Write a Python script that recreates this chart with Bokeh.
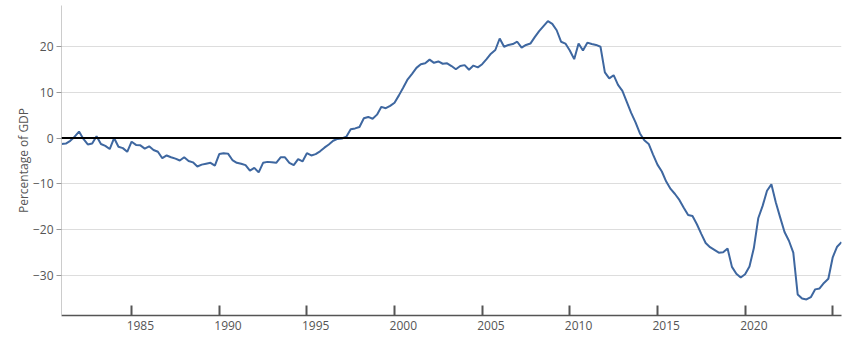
from bokeh.plotting import figure
from bokeh.models import Range1d, LinearAxis, FixedTicker, Span
from bokeh.embed import file_html
from bokeh.resources import INLINE

start_year = 1981
values = [
    -1.3, -1.2, -0.6, 0.3,
    1.4, -0.2, -1.4, -1.2,
    0.4, -1.3, -1.7, -2.4,
    0.0, -1.9, -2.2, -3.0,
    -0.8, -1.5, -1.6, -2.3,
    -1.8, -2.6, -3.0, -4.4,
    -3.8, -4.2, -4.5, -4.9,
    -4.2, -5.0, -5.3, -6.2,
    -5.8, -5.6, -5.4, -6.0,
    -3.5, -3.3, -3.4, -4.8,
    -5.4, -5.6, -5.9, -7.1,
    -6.5, -7.5, -5.4, -5.2,
    -5.3, -5.4, -4.2, -4.2,
    -5.4, -5.9, -4.6, -5.1,
    -3.3, -3.8, -3.5, -2.9,
    -2.1, -1.4, -0.6, -0.2,
    -0.1, 0.3, 1.9, 2.1,
    2.4, 4.3, 4.6, 4.2,
    5.1, 6.8, 6.5, 7.0,
    7.7, 9.3, 11.0, 12.8,
    14.0, 15.3, 16.1, 16.3,
    17.1, 16.4, 16.7, 16.2,
    16.3, 15.7, 15.0, 15.7,
    15.9, 14.9, 15.8, 15.4,
    16.1, 17.2, 18.4, 19.2,
    21.7, 19.9, 20.3, 20.5,
    21.0, 19.7, 20.3, 20.6,
    22.0, 23.3, 24.4, 25.5,
    24.9, 23.5, 21.0, 20.6,
    19.1, 17.2, 20.6, 19.1,
    20.8, 20.5, 20.3, 19.9,
    14.3, 13.0, 13.7, 11.6,
    10.3, 7.9, 5.5, 3.4,
    1.0, -0.5, -1.3, -3.6,
    -5.8, -7.3, -9.5, -11.1,
    -12.2, -13.5, -15.2, -16.8,
    -17.0, -18.8, -20.9, -22.9,
    -23.8, -24.4, -25.0, -24.9,
    -24.1, -28.1, -29.6, -30.4,
    -29.7, -28.0, -24.0, -17.5,
    -14.8, -11.5, -10.1, -14.0,
    -17.3, -20.5, -22.4, -25.0,
    -34.1, -35.0, -35.2, -34.7,
    -33.0, -32.8, -31.6, -30.7,
    -26.0, -23.7, -22.7,
]
dates = [start_year + i * 0.25 for i in range(len(values))]

x_tick_years = [1985, 1990, 1995, 2000, 2005, 2010, 2015, 2020, 2025]
x_label_years = [1985, 1990, 1995, 2000, 2005, 2010, 2015, 2020]
y_ticks = [-30, -20, -10, 0, 10, 20]
y_tick_labels = ["\u221230", "\u221220", "\u221210", "0", "10", "20"]
y_title = "Percentage of GDP"

FONT = "Open Sans"
TXT = "#555555"

p = figure(width=862, height=360, output_backend="svg", toolbar_location=None,
           x_axis_location=None, y_axis_location=None,
           x_range=Range1d(1981.0, 2025.5), y_range=Range1d(-38.7, 28.9),
           min_border_left=61, min_border_right=21, min_border_top=5, min_border_bottom=45)
p.outline_line_color = None
p.background_fill_color = "white"
p.border_fill_color = "white"

# y axis
yax = LinearAxis(ticker=FixedTicker(ticks=y_ticks))
yax.major_label_overrides = {t: l for t, l in zip(y_ticks, y_tick_labels)}
yax.axis_line_color = "#cccccc"
yax.major_tick_line_color = "#999999"
yax.major_tick_in = 0
yax.major_tick_out = 5
yax.minor_tick_line_color = None
yax.major_label_standoff = 3
yax.major_label_text_font = FONT
yax.major_label_text_font_size = "12px"
yax.major_label_text_color = TXT
yax.axis_label = y_title
yax.axis_label_text_font = FONT
yax.axis_label_text_font_size = "12px"
yax.axis_label_text_font_style = "normal"
yax.axis_label_text_color = TXT
yax.axis_label_standoff = -2
p.add_layout(yax, "left")

# x axis: labels at mid-year (major), tick marks at years (minor)
xax = LinearAxis(ticker=FixedTicker(ticks=[y + 0.5 for y in x_label_years],
                                    minor_ticks=x_tick_years))
xax.major_label_overrides = {y + 0.5: str(y) for y in x_label_years}
xax.axis_line_color = "#555555"
xax.axis_line_width = 1.5
xax.major_tick_line_color = None
xax.major_tick_in = 0
xax.major_tick_out = 0
xax.minor_tick_line_color = "#555555"
xax.minor_tick_line_width = 2
xax.minor_tick_in = 10
xax.minor_tick_out = 0
xax.major_label_standoff = 5
xax.major_label_text_font = FONT
xax.major_label_text_font_size = "12px"
xax.major_label_text_color = TXT
p.add_layout(xax, "below")

p.ygrid.ticker = FixedTicker(ticks=y_ticks)
p.ygrid.grid_line_color = "#dddddd"
p.ygrid.grid_line_width = 1
p.xgrid.grid_line_color = None

p.line(dates, values, line_color="#3e67a0", line_width=2)
p.add_layout(Span(location=0, dimension="width", line_color="black", line_width=2))

open("out.html", "w").write(file_html(p, INLINE))
